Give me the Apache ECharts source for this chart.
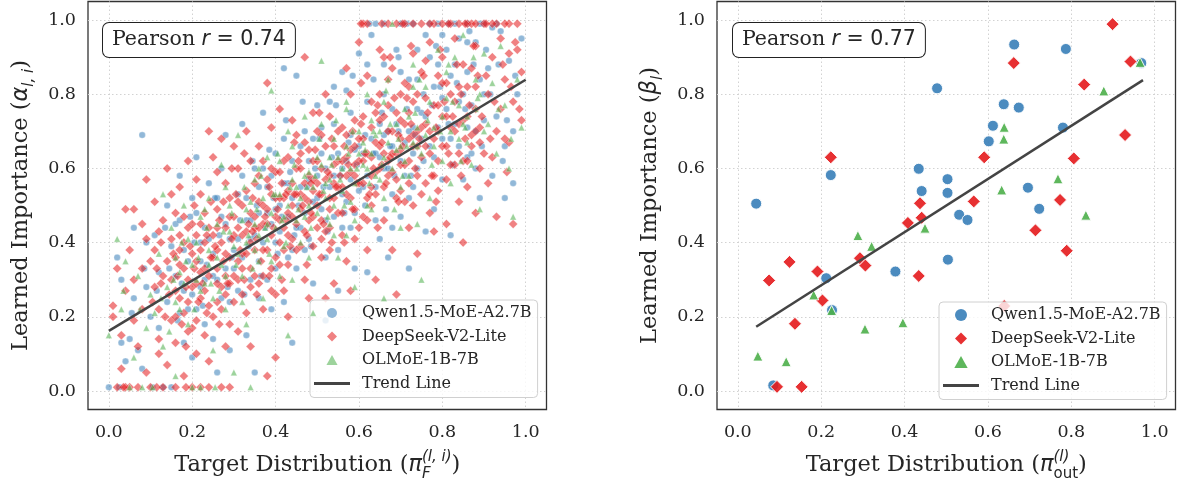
<!DOCTYPE html>
<html>
<head>
<meta charset="utf-8">
<title>Target distribution vs learned importance</title>
<script src="https://cdn.jsdelivr.net/npm/echarts@6/dist/echarts.min.js"></script>
<style>
  html, body { margin: 0; padding: 0; background: #fff; }
  #chart { width: 1178px; height: 483px; }
</style>
</head>
<body>
<div id="chart"></div>
<script>
var tickValues = [0, 0.2, 0.4, 0.6, 0.8, 1.0];
var seriesNames = ['Qwen1.5-MoE-A2.7B', 'DeepSeek-V2-Lite', 'OLMoE-1B-7B', 'Trend Line'];
var pearsonR = ['0.74', '0.77'];

// left panel: per expert (target pi_F vs learned alpha), outer cloud
var expertQwen = [
  [0.00,0.01],[0.02,0.36],[0.03,0.30],[0.04,0.08],[0.05,0.14],[0.06,0.25],[0.07,0.11],[0.08,0.69],[0.09,0.40],[0.10,0.20],[0.03,0.13],[0.06,0.44],[0.09,0.28],[0.08,0.06],
  [0.11,0.42],[0.12,0.32],[0.13,0.01],[0.14,0.24],[0.15,0.01],[0.16,0.45],[0.17,0.58],[0.18,0.13],[0.19,0.35],[0.20,0.52],[0.12,0.17],[0.15,0.39],[0.18,0.27],[0.20,0.09],[0.14,0.50],[0.17,0.21],
  [0.21,0.63],[0.22,0.40],[0.23,0.18],[0.24,0.56],[0.25,0.31],[0.26,0.05],[0.27,0.47],[0.28,0.69],[0.29,0.24],[0.30,0.38],[0.22,0.28],[0.25,0.14],[0.27,0.60],[0.29,0.11],[0.23,0.44],[0.28,0.33],
  [0.31,0.53],[0.32,0.72],[0.33,0.15],[0.34,0.41],[0.35,0.60],[0.36,0.35],[0.37,0.75],[0.38,0.48],[0.39,0.22],[0.40,0.64],[0.31,0.27],[0.33,0.46],[0.36,0.55],[0.38,0.30],[0.40,0.40],[0.35,0.05],[0.39,0.58],
  [0.41,0.50],[0.42,0.87],[0.43,0.36],[0.44,0.62],[0.45,0.85],[0.46,0.44],[0.47,0.70],[0.48,0.57],[0.49,0.29],[0.50,0.77],[0.42,0.24],[0.44,0.13],[0.46,0.66],[0.48,0.41],[0.50,0.52],[0.45,0.33],[0.43,0.56],
  [0.51,0.64],[0.52,0.46],[0.53,0.78],[0.54,0.58],[0.55,0.38],[0.56,0.86],[0.57,0.51],[0.58,0.69],[0.59,0.33],[0.60,0.91],[0.52,0.19],[0.54,0.72],[0.56,0.60],[0.58,0.44],[0.60,0.66],[0.55,0.27],[0.57,0.81],
  [0.61,0.55],[0.62,0.78],[0.63,0.96],[0.64,0.64],[0.65,0.41],[0.66,0.88],[0.67,0.70],[0.68,0.53],[0.69,0.92],[0.70,0.99],[0.62,0.32],[0.64,0.99],[0.66,0.60],[0.68,0.76],[0.70,0.47],[0.65,0.72],[0.67,0.36],
  [0.71,0.67],[0.72,0.84],[0.73,0.55],[0.74,0.92],[0.75,0.75],[0.76,0.43],[0.77,0.99],[0.78,0.63],[0.79,0.88],[0.80,0.79],[0.72,0.33],[0.74,0.60],[0.76,0.96],[0.78,0.49],[0.80,0.57],[0.73,0.71],
  [0.81,0.92],[0.82,0.68],[0.83,0.99],[0.84,0.78],[0.85,0.57],[0.86,0.86],[0.87,0.64],[0.88,0.94],[0.89,0.52],[0.90,0.80],[0.82,0.42],[0.84,0.95],[0.86,0.71],[0.88,0.60],[0.90,0.99],
  [0.91,0.87],[0.92,0.58],[0.93,0.74],[0.94,0.97],[0.95,0.66],[0.96,0.89],[0.97,0.56],[0.98,0.80],[0.99,0.95],[0.92,0.98],[0.95,0.52],[0.97,0.70]
];
var expertDeepSeek = [
  [0.01,0.23],[0.02,0.33],[0.03,0.15],[0.04,0.49],[0.05,0.01],[0.02,0.01],[0.04,0.27],[0.03,0.06],[0.05,0.38],[0.01,0.20],
  [0.06,0.49],[0.07,0.01],[0.08,0.45],[0.09,0.57],[0.07,0.12],[0.06,0.30],[0.08,0.22],[0.09,0.05],[0.10,0.35],[0.06,0.19],[0.09,0.41],[0.10,0.01],[0.08,0.33],
  [0.11,0.51],[0.12,0.43],[0.13,0.46],[0.11,0.28],[0.12,0.14],[0.13,0.01],[0.14,0.35],[0.15,0.53],[0.12,0.22],[0.14,0.07],[0.15,0.41],[0.11,0.38],[0.13,0.31],[0.15,0.19],[0.14,0.60],[0.12,0.10],
  [0.16,0.48],[0.17,0.25],[0.18,0.40],[0.16,0.13],[0.19,0.62],[0.18,0.04],[0.17,0.55],[0.19,0.30],[0.20,0.01],[0.16,0.36],[0.18,0.21],[0.20,0.45],[0.19,0.16],[0.17,0.34],[0.20,0.28],
  [0.21,0.57],[0.22,0.38],[0.23,0.48],[0.21,0.10],[0.24,0.70],[0.22,0.25],[0.23,0.33],[0.25,0.63],[0.24,0.01],[0.21,0.42],[0.25,0.20],[0.22,0.53],[0.23,0.15],[0.24,0.44],[0.25,0.36],[0.21,0.29],[0.24,0.08],
  [0.26,0.59],[0.27,0.68],[0.28,0.44],[0.26,0.24],[0.29,0.52],[0.27,0.01],[0.28,0.31],[0.30,0.66],[0.29,0.18],[0.26,0.38],[0.30,0.47],[0.28,0.12],[0.27,0.28],[0.29,0.36],[0.30,0.24],[0.26,0.49],[0.28,0.56],
  [0.31,0.60],[0.32,0.42],[0.33,0.54],[0.34,0.33],[0.31,0.16],[0.33,0.70],[0.35,0.47],[0.32,0.26],[0.34,0.62],[0.35,0.38],[0.31,0.30],[0.33,0.21],[0.32,0.50],[0.35,0.56],[0.34,0.12],[0.31,0.44],
  [0.36,0.66],[0.37,0.45],[0.38,0.83],[0.39,0.53],[0.36,0.29],[0.38,0.38],[0.40,0.59],[0.37,0.22],[0.39,0.71],[0.40,0.47],[0.36,0.51],[0.38,0.04],[0.39,0.33],[0.37,0.62],[0.40,0.26],[0.38,0.57],
  [0.41,0.76],[0.42,0.52],[0.43,0.63],[0.44,0.41],[0.41,0.34],[0.43,0.48],[0.45,0.69],[0.42,0.27],[0.44,0.56],[0.45,0.45],[0.41,0.59],[0.43,0.20],[0.44,0.73],[0.42,0.38],[0.45,0.60],[0.40,0.09],
  [0.46,0.64],[0.47,0.90],[0.48,0.51],[0.49,0.75],[0.46,0.39],[0.48,0.58],[0.50,0.44],[0.47,0.30],[0.49,0.62],[0.50,0.70],[0.46,0.53],[0.48,0.25],[0.47,0.67],[0.50,0.56],[0.49,0.47],
  [0.51,0.60],[0.52,0.80],[0.53,0.49],[0.54,0.66],[0.51,0.36],[0.53,0.74],[0.55,0.55],[0.52,0.43],[0.54,0.29],[0.55,0.62],[0.51,0.69],[0.53,0.58],[0.52,0.25],[0.54,0.52],
  [0.56,0.71],[0.57,0.58],[0.58,0.80],[0.59,0.49],[0.56,0.42],[0.58,0.65],[0.60,0.94],[0.57,0.35],[0.59,0.73],[0.60,0.56],[0.56,0.62],[0.58,0.27],[0.57,0.87],[0.60,0.44],[0.59,0.61],
  [0.61,0.68],[0.62,0.85],[0.63,0.55],[0.64,0.75],[0.61,0.47],[0.63,0.63],[0.65,0.80],[0.62,0.38],[0.64,0.59],[0.65,0.92],[0.61,0.99],[0.63,0.71],[0.62,0.52],[0.64,0.30],[0.65,0.66],
  [0.66,0.74],[0.67,0.58],[0.68,0.87],[0.69,0.64],[0.66,0.46],[0.68,0.70],[0.70,0.80],[0.67,0.99],[0.69,0.52],[0.70,0.61],[0.66,0.90],[0.68,0.38],[0.67,0.77],[0.69,0.26],[0.70,0.68],
  [0.71,0.83],[0.72,0.62],[0.73,0.91],[0.74,0.70],[0.71,0.51],[0.73,0.78],[0.75,0.99],[0.72,0.44],[0.74,0.58],[0.75,0.86],[0.71,0.99],[0.73,0.66],[0.74,0.37],[0.72,0.75],[0.75,0.53],
  [0.76,0.79],[0.77,0.94],[0.78,0.68],[0.79,0.85],[0.76,0.56],[0.78,0.99],[0.80,0.74],[0.77,0.48],[0.79,0.62],[0.80,0.90],[0.76,0.66],[0.78,0.43],[0.80,0.99],[0.79,0.54],
  [0.81,0.83],[0.82,0.71],[0.83,0.95],[0.84,0.64],[0.81,0.57],[0.83,0.78],[0.85,0.88],[0.82,0.99],[0.84,0.51],[0.85,0.73],[0.81,0.45],[0.83,0.61],[0.86,0.99],[0.85,0.40],
  [0.86,0.82],[0.87,0.69],[0.88,0.93],[0.89,0.60],[0.86,0.55],[0.88,0.76],[0.90,0.99],[0.87,0.87],[0.89,0.71],[0.90,0.64],[0.88,0.48],[0.87,0.99],
  [0.91,0.80],[0.92,0.90],[0.93,0.70],[0.94,0.95],[0.91,0.56],[0.93,0.99],[0.95,0.84],[0.92,0.63],[0.94,0.76],[0.93,0.47],[0.95,0.68],
  [0.96,0.91],[0.97,0.78],[0.98,0.99],[0.99,0.86],[0.96,0.67],[0.97,0.45],[0.99,0.73],[0.98,0.92],[0.96,0.99]
];
var expertOlmoe = [
  [0.00,0.15],[0.02,0.41],[0.03,0.22],[0.05,0.01],[0.06,0.09],[0.07,0.31],[0.08,0.01],[0.09,0.17],[0.10,0.26],[0.04,0.35],
  [0.11,0.21],[0.12,0.37],[0.13,0.12],[0.14,0.28],[0.15,0.44],[0.16,0.04],[0.17,0.32],[0.18,0.50],[0.19,0.18],[0.20,0.01],[0.13,0.53],[0.16,0.24],
  [0.21,0.40],[0.22,0.01],[0.23,0.29],[0.24,0.52],[0.25,0.11],[0.26,0.36],[0.27,0.61],[0.28,0.22],[0.29,0.43],[0.30,0.05],[0.24,0.34],[0.28,0.55],[0.22,0.47],
  [0.31,0.69],[0.32,0.31],[0.33,0.49],[0.34,0.01],[0.35,0.38],[0.36,0.60],[0.37,0.25],[0.38,0.45],[0.39,0.81],[0.40,0.53],[0.33,0.18],[0.36,0.42],[0.39,0.35],
  [0.41,0.62],[0.42,0.47],[0.43,0.70],[0.44,0.30],[0.45,0.55],[0.46,0.40],[0.47,0.74],[0.48,0.50],[0.49,0.21],[0.50,0.63],[0.43,0.15],[0.47,0.58],
  [0.51,0.89],[0.52,0.56],[0.53,0.45],[0.54,0.68],[0.55,0.36],[0.56,0.60],[0.57,0.76],[0.58,0.51],[0.59,0.28],[0.60,0.70],[0.53,0.63],[0.57,0.42],
  [0.61,0.61],[0.62,0.80],[0.63,0.49],[0.64,0.69],[0.65,0.57],[0.66,0.25],[0.67,0.84],[0.68,0.99],[0.69,0.65],[0.70,0.44],[0.63,0.73],[0.66,0.52],
  [0.71,0.76],[0.72,0.58],[0.73,0.88],[0.74,0.66],[0.75,0.30],[0.76,0.82],[0.77,0.52],[0.78,0.71],[0.79,0.92],[0.80,0.62],[0.74,0.45],
  [0.81,0.79],[0.82,0.56],[0.83,0.90],[0.84,0.68],[0.85,0.96],[0.86,0.74],[0.87,0.61],[0.88,0.84],[0.89,0.49],[0.90,0.91],
  [0.91,0.72],[0.92,0.83],[0.93,0.64],[0.94,0.93],[0.95,0.77],[0.96,0.60],[0.97,0.47],[0.98,0.84],[0.99,0.71]
];
// left panel, dense core near the trend line
var expertQwenCore = [
  [0.16,0.31],[0.18,0.38],[0.20,0.26],[0.22,0.35],[0.24,0.41],[0.26,0.30],[0.28,0.45],[0.30,0.33],[0.17,0.46],[0.19,0.22],[0.21,0.48],[0.23,0.30],[0.25,0.37],[0.27,0.25],[0.29,0.41],[0.21,0.22],[0.26,0.52],
  [0.31,0.41],[0.32,0.36],[0.33,0.52],[0.34,0.46],[0.35,0.42],[0.36,0.48],[0.37,0.40],[0.38,0.55],[0.39,0.45],[0.40,0.49],[0.41,0.43],[0.42,0.56],[0.43,0.47],[0.44,0.52],[0.45,0.44],[0.32,0.58],[0.34,0.30],[0.37,0.60],[0.40,0.33],[0.42,0.68],[0.44,0.38],[0.36,0.25],
  [0.46,0.55],[0.47,0.48],[0.48,0.62],[0.49,0.51],[0.50,0.58],[0.51,0.49],[0.52,0.60],[0.53,0.55],[0.54,0.47],[0.55,0.64],[0.56,0.53],[0.57,0.62],[0.58,0.57],[0.59,0.65],[0.60,0.54],[0.47,0.38],[0.49,0.68],[0.52,0.36],[0.54,0.82],[0.56,0.44],[0.58,0.75],[0.59,0.48],[0.51,0.71],
  [0.61,0.64],[0.62,0.58],[0.63,0.68],[0.64,0.55],[0.65,0.63],[0.66,0.69],[0.67,0.60],[0.68,0.66],[0.69,0.72],[0.70,0.62],[0.71,0.58],[0.72,0.70],[0.73,0.64],[0.74,0.76],[0.75,0.68],[0.62,0.88],[0.64,0.46],[0.66,0.80],[0.68,0.44],[0.70,0.86],[0.72,0.52],[0.74,0.84],
  [0.76,0.74],[0.77,0.66],[0.78,0.82],[0.79,0.71],[0.80,0.68],[0.81,0.76],[0.82,0.85],[0.83,0.72],[0.84,0.66],[0.85,0.80],[0.86,0.63],[0.87,0.77],[0.88,0.70],[0.89,0.84],[0.90,0.73],[0.77,0.90],[0.80,0.96],[0.83,0.88],[0.86,0.94],[0.89,0.99],
  [0.66,0.99],[0.73,0.99],[0.79,0.99],[0.86,0.99],[0.93,0.99]
];
var expertDeepSeekCore = [
  [0.15,0.30],[0.16,0.27],[0.17,0.42],[0.18,0.33],[0.19,0.24],[0.20,0.37],[0.21,0.19],[0.22,0.45],[0.23,0.27],[0.24,0.31],[0.25,0.42],[0.16,0.20],[0.18,0.47],[0.20,0.17],[0.22,0.32],[0.24,0.23],[0.17,0.38],[0.23,0.40],[0.21,0.35],[0.19,0.44],
  [0.26,0.33],[0.27,0.40],[0.28,0.37],[0.29,0.29],[0.30,0.42],[0.31,0.35],[0.32,0.37],[0.33,0.43],[0.34,0.28],[0.35,0.44],[0.26,0.44],[0.27,0.22],[0.29,0.47],[0.30,0.31],[0.32,0.33],[0.33,0.37],[0.34,0.48],[0.35,0.31],[0.28,0.26],[0.31,0.51],[0.26,0.29],[0.34,0.40],
  [0.36,0.44],[0.37,0.38],[0.38,0.49],[0.39,0.42],[0.40,0.36],[0.41,0.46],[0.42,0.44],[0.43,0.54],[0.44,0.47],[0.45,0.38],[0.36,0.58],[0.37,0.31],[0.38,0.45],[0.39,0.60],[0.40,0.52],[0.41,0.40],[0.42,0.62],[0.43,0.34],[0.44,0.50],[0.45,0.53],[0.37,0.50],[0.39,0.27],[0.41,0.52],[0.43,0.42],
  [0.46,0.49],[0.47,0.56],[0.48,0.46],[0.49,0.54],[0.50,0.50],[0.51,0.53],[0.52,0.57],[0.53,0.44],[0.54,0.61],[0.55,0.48],[0.46,0.60],[0.47,0.43],[0.48,0.65],[0.49,0.39],[0.50,0.62],[0.51,0.46],[0.52,0.66],[0.53,0.38],[0.54,0.56],[0.55,0.70],[0.47,0.52],[0.49,0.57],[0.51,0.41],[0.53,0.52],
  [0.56,0.55],[0.57,0.63],[0.58,0.52],[0.59,0.58],[0.60,0.62],[0.61,0.56],[0.62,0.64],[0.63,0.50],[0.64,0.67],[0.65,0.60],[0.56,0.48],[0.57,0.69],[0.58,0.59],[0.59,0.41],[0.60,0.68],[0.61,0.62],[0.62,0.46],[0.63,0.78],[0.64,0.53],[0.65,0.73],[0.57,0.53],[0.59,0.66],[0.61,0.74],[0.63,0.58],
  [0.66,0.64],[0.67,0.70],[0.68,0.59],[0.69,0.75],[0.70,0.65],[0.71,0.72],[0.72,0.56],[0.73,0.69],[0.74,0.80],[0.75,0.63],[0.66,0.55],[0.67,0.84],[0.68,0.64],[0.69,0.57],[0.70,0.73],[0.71,0.61],[0.72,0.82],[0.73,0.50],[0.74,0.66],[0.75,0.71],[0.67,0.62],[0.70,0.54],[0.72,0.68],
  [0.76,0.72],[0.77,0.64],[0.78,0.77],[0.79,0.70],[0.80,0.66],[0.81,0.74],[0.82,0.61],[0.83,0.70],[0.84,0.82],[0.85,0.62],[0.86,0.74],[0.87,0.66],[0.88,0.82],[0.89,0.67],[0.76,0.89],[0.78,0.58],[0.80,0.83],[0.82,0.80],[0.84,0.72],[0.86,0.62],[0.88,0.70],[0.77,0.70],[0.79,0.77],[0.81,0.66],
  [0.62,0.99],[0.69,0.99],[0.73,0.99],[0.77,0.99],[0.84,0.99],[0.88,0.99],[0.92,0.99],[0.95,0.99],
  [0.04,0.01],[0.16,0.01],[0.22,0.01],[0.29,0.01]
];
var expertOlmoeCore = [
  [0.16,0.36],[0.18,0.29],[0.20,0.34],[0.22,0.27],[0.24,0.38],[0.26,0.45],[0.28,0.31],[0.30,0.39],[0.17,0.22],[0.19,0.41],[0.21,0.30],[0.23,0.49],[0.25,0.25],[0.27,0.34],[0.29,0.50],
  [0.31,0.37],[0.32,0.46],[0.33,0.40],[0.34,0.51],[0.35,0.45],[0.36,0.35],[0.37,0.52],[0.38,0.41],[0.39,0.48],[0.40,0.44],[0.41,0.53],[0.42,0.39],[0.43,0.50],[0.44,0.57],[0.45,0.46],[0.32,0.24],[0.35,0.57],[0.38,0.63],[0.41,0.31],[0.44,0.66],
  [0.46,0.52],[0.47,0.47],[0.48,0.59],[0.49,0.55],[0.50,0.48],[0.51,0.61],[0.52,0.52],[0.53,0.57],[0.54,0.50],[0.55,0.63],[0.56,0.54],[0.57,0.66],[0.58,0.60],[0.59,0.56],[0.60,0.64],[0.48,0.36],[0.51,0.72],[0.54,0.42],[0.57,0.78],[0.59,0.46],
  [0.61,0.67],[0.62,0.60],[0.63,0.64],[0.64,0.58],[0.65,0.70],[0.66,0.63],[0.67,0.67],[0.68,0.60],[0.69,0.72],[0.70,0.66],[0.71,0.62],[0.72,0.74],[0.73,0.67],[0.74,0.71],[0.75,0.64],[0.62,0.50],[0.66,0.78],[0.70,0.55],[0.73,0.82],
  [0.76,0.69],[0.78,0.66],[0.80,0.74],[0.82,0.70],[0.84,0.77],[0.86,0.67],[0.88,0.76],[0.90,0.70],[0.77,0.78],[0.81,0.86],[0.85,0.72],[0.89,0.80]
];
// left panel, in-between fill of the cloud
var expertQwenFill = [
  [0.115,0.27],[0.145,0.33],[0.175,0.29],[0.205,0.40],[0.235,0.34],[0.265,0.42],[0.295,0.36],[0.135,0.44],[0.165,0.19],[0.195,0.47],[0.225,0.23],[0.255,0.52],[0.285,0.28],[0.055,0.21],[0.085,0.33],
  [0.315,0.46],[0.335,0.39],[0.355,0.50],[0.375,0.44],[0.395,0.52],[0.415,0.47],[0.435,0.59],[0.455,0.50],[0.325,0.26],[0.345,0.62],[0.365,0.31],[0.385,0.65],[0.405,0.37],[0.425,0.73],[0.445,0.42],[0.465,0.78],
  [0.475,0.55],[0.495,0.60],[0.515,0.55],[0.535,0.63],[0.555,0.58],[0.575,0.67],[0.595,0.61],[0.485,0.39],[0.505,0.68],[0.525,0.43],[0.545,0.77],[0.565,0.48],[0.585,0.85],[0.615,0.50],
  [0.615,0.69],[0.635,0.64],[0.655,0.75],[0.675,0.66],[0.695,0.70],[0.715,0.76],[0.735,0.69],[0.755,0.80],[0.635,0.84],[0.665,0.49],[0.695,0.90],[0.725,0.58],[0.755,0.62],[0.685,0.58],
  [0.775,0.77],[0.795,0.82],[0.815,0.72],[0.835,0.83],[0.855,0.76],[0.875,0.88],[0.895,0.66],[0.915,0.80],[0.935,0.88],[0.955,0.73],[0.975,0.85],[0.785,0.93],[0.825,0.61],[0.865,0.97],[0.905,0.92],[0.945,0.62],
  [0.625,0.99],[0.715,0.99],[0.815,0.99],[0.025,0.01],[0.105,0.01]
];
var expertDeepSeekFill = [
  [0.105,0.24],[0.125,0.29],[0.145,0.26],[0.165,0.31],[0.185,0.28],[0.205,0.33],[0.225,0.29],[0.245,0.36],[0.115,0.33],[0.135,0.20],[0.155,0.37],[0.175,0.18],[0.195,0.39],[0.215,0.24],[0.235,0.42],[0.125,0.40],[0.185,0.12],[0.205,0.50],[0.235,0.21],[0.245,0.51],
  [0.255,0.39],[0.275,0.35],[0.295,0.41],[0.315,0.38],[0.335,0.45],[0.355,0.41],[0.375,0.47],[0.395,0.44],[0.265,0.46],[0.285,0.29],[0.305,0.53],[0.325,0.30],[0.345,0.52],[0.365,0.35],[0.385,0.55],[0.265,0.18],[0.295,0.60],[0.325,0.64],[0.355,0.26],[0.385,0.31],[0.275,0.51],[0.345,0.43],
  [0.405,0.49],[0.425,0.46],[0.445,0.53],[0.465,0.50],[0.485,0.56],[0.505,0.53],[0.525,0.59],[0.545,0.55],[0.415,0.56],[0.435,0.39],[0.455,0.62],[0.475,0.42],[0.495,0.65],[0.515,0.45],[0.535,0.68],[0.415,0.30],[0.445,0.67],[0.475,0.34],[0.505,0.75],[0.535,0.40],[0.425,0.53],[0.485,0.48],
  [0.555,0.58],[0.575,0.61],[0.595,0.56],[0.615,0.64],[0.635,0.60],[0.655,0.67],[0.675,0.63],[0.695,0.69],[0.565,0.66],[0.585,0.49],[0.605,0.72],[0.625,0.53],[0.645,0.77],[0.665,0.56],[0.685,0.79],[0.565,0.40],[0.605,0.83],[0.645,0.44],[0.675,0.90],[0.695,0.51],[0.585,0.70],[0.655,0.61],
  [0.705,0.66],[0.725,0.72],[0.745,0.68],[0.765,0.75],[0.785,0.71],[0.805,0.78],[0.825,0.74],[0.845,0.80],[0.865,0.77],[0.885,0.85],[0.715,0.79],[0.735,0.60],[0.755,0.85],[0.775,0.58],[0.795,0.92],[0.815,0.64],[0.835,0.88],[0.855,0.68],[0.875,0.93],[0.895,0.74],[0.725,0.93],[0.785,0.51],[0.845,0.58],
  [0.905,0.85],[0.925,0.78],[0.945,0.88],[0.965,0.82],[0.985,0.76],[0.915,0.68],[0.955,0.59],[0.975,0.94],
  [0.605,0.99],[0.655,0.99],[0.705,0.99],[0.815,0.99],[0.855,0.99],[0.905,0.99],[0.035,0.01],[0.115,0.01],[0.185,0.01]
];
var expertOlmoeFill = [
  [0.125,0.25],[0.155,0.30],[0.185,0.35],[0.215,0.36],[0.245,0.29],[0.275,0.43],[0.305,0.34],[0.145,0.16],[0.175,0.40],[0.205,0.22],[0.235,0.44],[0.265,0.27],[0.295,0.48],[0.075,0.22],[0.035,0.27],
  [0.335,0.42],[0.355,0.49],[0.375,0.44],[0.395,0.53],[0.415,0.46],[0.435,0.55],[0.455,0.49],[0.345,0.33],[0.365,0.58],[0.385,0.37],[0.405,0.64],[0.425,0.40],[0.445,0.61],[0.325,0.55],
  [0.475,0.55],[0.495,0.58],[0.515,0.54],[0.535,0.61],[0.555,0.57],[0.575,0.64],[0.595,0.60],[0.485,0.44],[0.505,0.68],[0.525,0.47],[0.545,0.73],[0.565,0.50],[0.585,0.70],
  [0.615,0.65],[0.635,0.70],[0.655,0.61],[0.675,0.72],[0.695,0.68],[0.715,0.66],[0.735,0.75],[0.625,0.56],[0.665,0.81],[0.705,0.58],[0.745,0.84],[0.685,0.49],
  [0.765,0.73],[0.795,0.70],[0.825,0.78],[0.855,0.71],[0.885,0.79],[0.775,0.61],[0.815,0.88],[0.845,0.62],[0.875,0.90],[0.935,0.76],[0.965,0.68],
  [0.255,0.01],[0.105,0.01]
];
var expertTrend = [[0, 0.162], [1.0, 0.839]];

// right panel: per layer (target pi_out vs learned beta)
var layerQwen = [
  [0.044,0.505],[0.223,0.582],[0.212,0.304],[0.226,0.218],[0.085,0.015],[0.378,0.322],[0.434,0.599],[0.441,0.539],
  [0.478,0.816],[0.503,0.571],[0.503,0.534],[0.504,0.354],[0.531,0.475],[0.551,0.461],[0.602,0.673],[0.612,0.715],
  [0.638,0.773],[0.663,0.934],[0.674,0.764],[0.696,0.548],[0.723,0.491],[0.780,0.710],[0.787,0.922],[0.968,0.884]
];
var layerDeepSeek = [
  [0.075,0.298],[0.124,0.348],[0.137,0.181],[0.094,0.011],[0.153,0.011],[0.191,0.322],[0.203,0.244],[0.223,0.630],
  [0.293,0.358],[0.306,0.338],[0.408,0.453],[0.437,0.506],[0.441,0.467],[0.434,0.310],[0.566,0.511],[0.591,0.630],
  [0.639,0.229],[0.662,0.884],[0.714,0.433],[0.773,0.515],[0.789,0.378],[0.806,0.627],[0.831,0.826],[0.899,0.989],
  [0.929,0.690],[0.942,0.888]
];
var layerOlmoe = [
  [0.048,0.094],[0.116,0.079],[0.182,0.259],[0.225,0.217],[0.288,0.419],[0.321,0.390],[0.305,0.167],[0.396,0.184],
  [0.449,0.439],[0.633,0.542],[0.639,0.711],[0.638,0.679],[0.768,0.572],[0.835,0.474],[0.878,0.809],[0.965,0.886]
];
var layerTrend = [[0.044, 0.173], [0.972, 0.838]];

var colors = ['#377eb8', '#e41a1c', '#4daf4a', '#444444'];
var symbols = ['circle', 'diamond', 'triangle'];
var legendIcons = ['circle', 'path://M5,0L10,5L5,10L0,5Z', 'path://M5,0L10,9L0,9Z', 'path://M0,0h33v2.6h-33z'];
var SERIF = 'DejaVu Serif';
var SANS = 'DejaVu Sans';
var INK = '#262626';

var chart = echarts.init(document.getElementById('chart'));

function mathRich(size) {
    var small = 15;
    return {
        t: { fontFamily: SERIF, fontSize: size, lineHeight: 32, align: 'left', color: INK },
        mi: { fontFamily: SANS, fontStyle: 'italic', fontSize: size, lineHeight: 32, align: 'left', color: INK },
        sub: { fontFamily: SANS, fontStyle: 'italic', fontSize: small, lineHeight: 16, verticalAlign: 'bottom', align: 'left', color: INK },
        subw: { fontFamily: SANS, fontStyle: 'italic', fontSize: small, lineHeight: 16, verticalAlign: 'bottom', align: 'left', width: 0, color: INK },
        subr: { fontFamily: SANS, fontSize: small, lineHeight: 16, verticalAlign: 'bottom', align: 'left', color: INK },
        sup: { fontFamily: SANS, fontStyle: 'italic', fontSize: small, lineHeight: 16, verticalAlign: 'top', align: 'left', color: INK },
        supw: { fontFamily: SANS, fontStyle: 'italic', fontSize: small, lineHeight: 16, verticalAlign: 'top', align: 'left', width: 0, color: INK }
    };
}

function axisFor(g, name, isX) {
    return {
        type: 'value', gridIndex: g, min: -0.05, max: 1.05,
        name: name, nameLocation: 'middle', nameGap: isX ? 40 : 51,
        nameTextStyle: { rich: mathRich(22.5) },
        axisLine: { show: false },
        axisTick: { show: false, customValues: tickValues },
        axisLabel: {
            customValues: tickValues, margin: isX ? 14 : 12, fontFamily: SERIF, fontSize: 17.5, color: INK,
            formatter: function (v) { return v.toFixed(1); }
        },
        splitLine: { show: true, lineStyle: { color: '#d2d2d2', width: 1, type: [1.5, 2.5] } }
    };
}

function scatter(i, g, data, size, opacity, bw) {
    return {
        name: seriesNames[i], type: 'scatter', xAxisIndex: g, yAxisIndex: g,
        symbol: symbols[i], symbolSize: size, data: data, z: 2 + i,
        itemStyle: { color: colors[i], opacity: opacity, borderColor: '#ffffff', borderWidth: bw },
        emphasis: { disabled: true }
    };
}

function trend(g, data) {
    return {
        name: seriesNames[3], type: 'line', xAxisIndex: g, yAxisIndex: g,
        data: data, symbol: 'none', z: 10,
        lineStyle: { color: colors[3], width: 2.5 }, itemStyle: { color: colors[3] }
    };
}

function legendFor(left, top, opacity, iconSize) {
    var items = [];
    for (var i = 0; i < 4; i++) {
        items.push({
            name: seriesNames[i], icon: legendIcons[i],
            itemStyle: { color: colors[i], opacity: i < 3 ? opacity : 1, borderWidth: 0 }
        });
    }
    return {
        left: left, top: top, orient: 'vertical', data: items,
        itemWidth: 36, itemHeight: iconSize, itemGap: 5.5,
        padding: [4, 6, 5, 4],
        backgroundColor: 'rgba(255,255,255,0.8)', borderColor: '#d0d0d0', borderWidth: 1, borderRadius: 4,
        textStyle: { fontFamily: SERIF, fontSize: 16, lineHeight: 18, color: INK, padding: [0, 0, 0, 7] },
        selectedMode: false
    };
}

function pearsonBox(left, r) {
    return {
        type: 'text', left: left, top: 22, z: 100,
        style: {
            text: '{s|Pearson }{i|r}{m| = ' + r + '}',
            rich: {
                s: { fontFamily: SERIF, fontSize: 20.5, fill: INK },
                i: { fontFamily: SANS, fontStyle: 'italic', fontSize: 20.5, fill: INK },
                m: { fontFamily: SANS, fontSize: 20.5, fill: INK }
            },
            backgroundColor: '#ffffff', borderColor: '#222222', borderWidth: 1, borderRadius: 6,
            padding: [6, 9, 7, 9]
        }
    };
}

var gridBase = { top: 1.5, width: 458.5, height: 408, show: true, borderColor: '#333333', borderWidth: 1.3, backgroundColor: '#ffffff', outerBoundsMode: 'none' };

var option = {
    animation: false,
    backgroundColor: '#ffffff',
    grid: [
        echarts.util.extend({ left: 88 }, gridBase),
        echarts.util.extend({ left: 717 }, gridBase)
    ],
    xAxis: [
        axisFor(0, '{t|Target Distribution (}{mi|π}{subw|F}{sup|(l, i)}{t|)}', true),
        axisFor(1, '{t|Target Distribution (}{mi|π}{supw|(l)}{subr|out}{t|)}', true)
    ],
    yAxis: [
        axisFor(0, '{t|Learned Importance (}{mi|α}{sub|l, i}{t|)}', false),
        axisFor(1, '{t|Learned Importance (}{mi|β}{sub|l}{t|)}', false)
    ],
    legend: [legendFor(310, 300, 0.55, 10), legendFor(939, 302, 0.9, 12)],
    graphic: [pearsonBox(102, pearsonR[0]), pearsonBox(732, pearsonR[1])],
    series: [
        scatter(0, 0, expertQwen.concat(expertQwenCore, expertQwenFill), 6.5, 0.55, 0.5),
        scatter(1, 0, expertDeepSeek.concat(expertDeepSeekCore, expertDeepSeekFill), 9, 0.55, 0.5),
        scatter(2, 0, expertOlmoe.concat(expertOlmoeCore, expertOlmoeFill), 6.5, 0.55, 0.5),
        trend(0, expertTrend),
        scatter(0, 1, layerQwen, 11, 0.9, 1),
        scatter(1, 1, layerDeepSeek, 13, 0.9, 1),
        scatter(2, 1, layerOlmoe, 10, 0.9, 1),
        trend(1, layerTrend)
    ]
};

chart.setOption(option);
</script>
</body>
</html>
